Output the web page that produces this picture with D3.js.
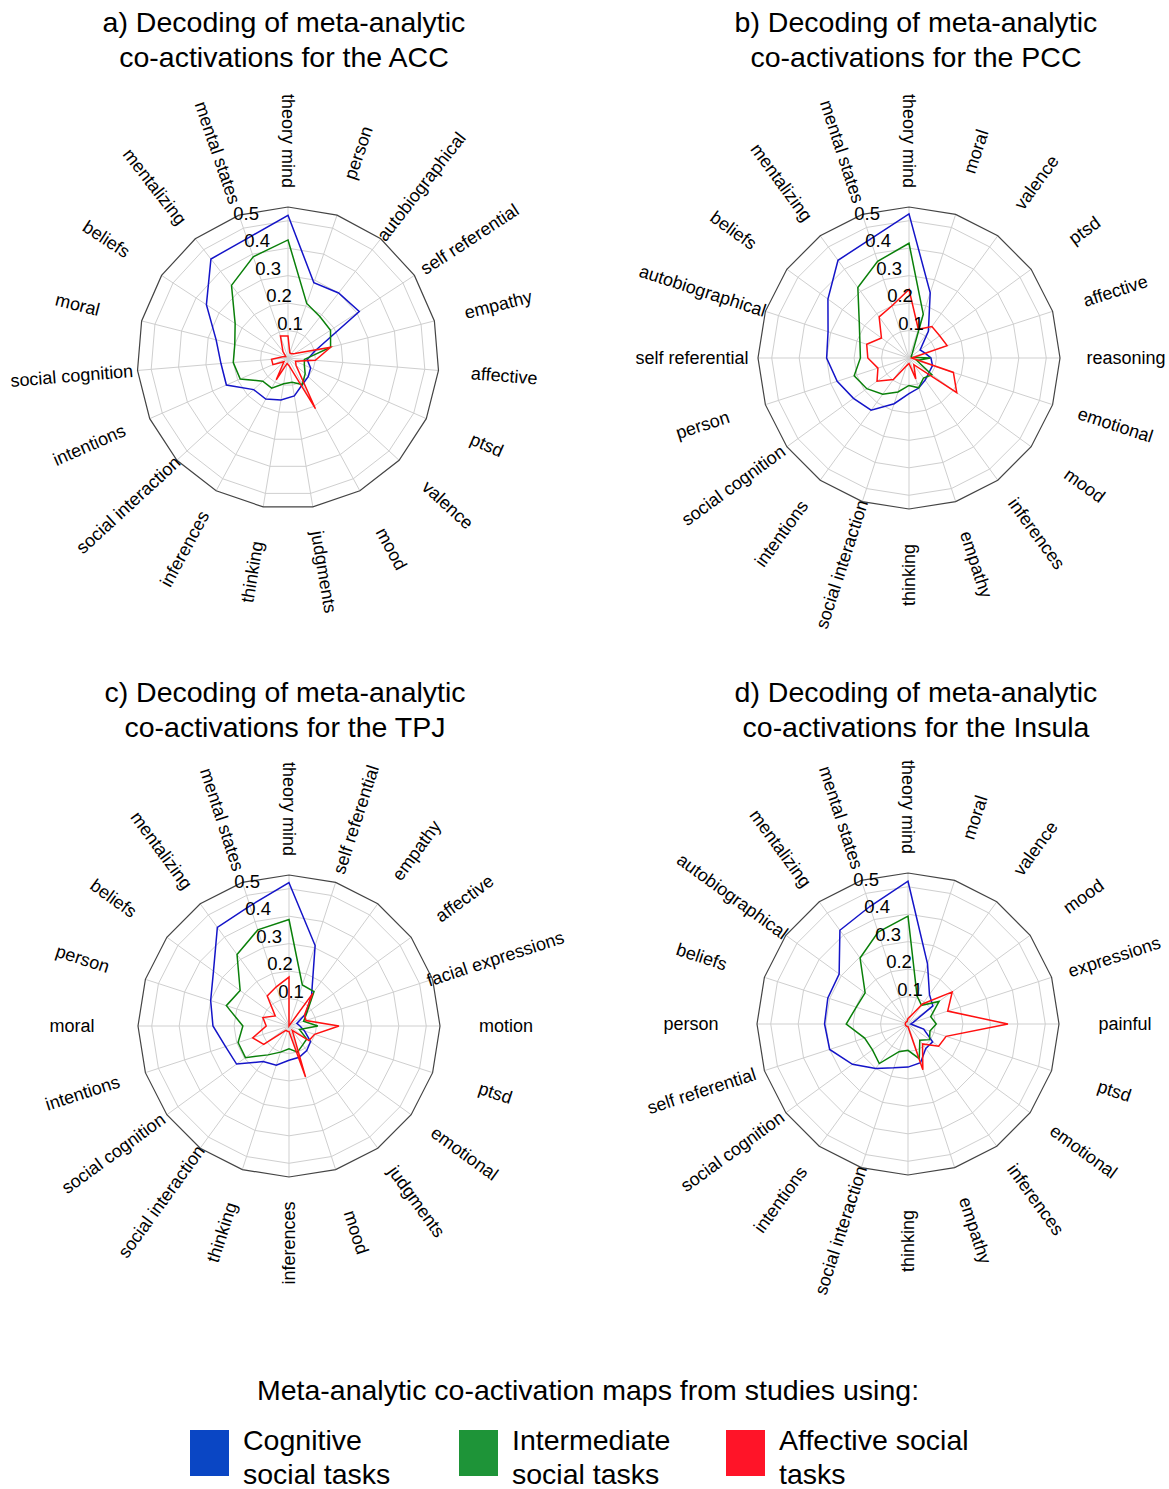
<!DOCTYPE html>
<html>
<head>
<meta charset="utf-8">
<script src="https://cdn.jsdelivr.net/npm/d3@7"></script>
<style>
  body { margin: 0; background: #fff; }
  text { font-family: "Liberation Sans", Arial, Helvetica, sans-serif; fill: #000; }
</style>
</head>
<body>
<div id="chart"></div>
<script>
// ---- data ----
const aCats = ["theory mind", "person", "autobiographical", "self referential", "empathy", "affective",
  "ptsd", "valence", "mood", "judgments", "thinking", "inferences", "social interaction", "intentions",
  "social cognition", "moral", "beliefs", "mentalizing", "mental states"];
const aCognitive = [0.52, 0.29, 0.30, 0.31, 0.10, 0.07, 0.09, 0.10, 0.11, 0.14, 0.155, 0.17, 0.17, 0.245, 0.245, 0.27, 0.355, 0.457, 0.46];
const aIntermediate = [0.43, 0.21, 0.19, 0.185, 0.16, 0.06, 0.065, 0.085, 0.11, 0.09, 0.095, 0.125, 0.125, 0.19, 0.20, 0.20, 0.23, 0.335, 0.39];
const aAffective = [0.08, 0.02, 0.02, 0.03, 0.16, 0.10, 0.03, 0.04, 0.21, 0.03, 0.02, 0.09, 0.02, 0.06, 0.06, 0.02, 0.01, 0.03, 0.085];

const bCats = ["theory mind", "moral", "valence", "ptsd", "affective", "reasoning", "emotional", "mood",
  "inferences", "empathy", "thinking", "social interaction", "intentions", "social cognition", "person",
  "self referential", "autobiographical", "beliefs", "mentalizing", "mental states"];
const bCognitive = [0.525, 0.25, 0.12, 0.05, 0.06, 0.08, 0.09, 0.09, 0.10, 0.115, 0.13, 0.175, 0.235, 0.25, 0.275, 0.30, 0.31, 0.365, 0.44, 0.455];
const bIntermediate = [0.418, 0.168, 0.02, 0.01, 0.01, 0.078, 0.03, 0.103, 0.09, 0.114, 0.10, 0.13, 0.163, 0.19, 0.21, 0.177, 0.188, 0.224, 0.317, 0.37];
const bAffective = [0.25, 0.11, 0.142, 0.138, 0.146, 0.01, 0.17, 0.215, 0.03, 0.08, 0.02, 0.03, 0.097, 0.144, 0.119, 0.15, 0.162, 0.124, 0.185, 0.20];

const cCats = ["theory mind", "self referential", "empathy", "affective", "facial expressions", "motion",
  "ptsd", "emotional", "judgments", "mood", "inferences", "thinking", "social interaction",
  "social cognition", "intentions", "moral", "person", "beliefs", "mentalizing", "mental states"];
const cCognitive = [0.522, 0.308, 0.14, 0.075, 0.03, 0.04, 0.06, 0.097, 0.11, 0.12, 0.125, 0.15, 0.16, 0.236, 0.243, 0.277, 0.30, 0.34, 0.444, 0.46];
const cIntermediate = [0.388, 0.157, 0.155, 0.08, 0.056, 0.105, 0.04, 0.08, 0.085, 0.10, 0.083, 0.10, 0.13, 0.196, 0.195, 0.168, 0.24, 0.22, 0.322, 0.368];
const cAffective = [0.178, 0.0, 0.147, 0.07, 0.065, 0.182, 0.098, 0.09, 0.02, 0.195, 0.02, 0.02, 0.02, 0.114, 0.139, 0.083, 0.10, 0.062, 0.135, 0.15];

const dCats = ["theory mind", "moral", "valence", "mood", "expressions", "painful", "ptsd", "emotional",
  "inferences", "empathy", "thinking", "social interaction", "intentions", "social cognition",
  "self referential", "person", "beliefs", "autobiographical", "mentalizing", "mental states"];
const dCognitive = [0.52, 0.23, 0.133, 0.112, 0.02, 0.01, 0.06, 0.111, 0.11, 0.148, 0.157, 0.168, 0.20, 0.25, 0.30, 0.304, 0.307, 0.31, 0.422, 0.45];
const dIntermediate = [0.393, 0.107, 0.084, 0.14, 0.087, 0.103, 0.084, 0.097, 0.073, 0.133, 0.096, 0.106, 0.178, 0.16, 0.166, 0.225, 0.198, 0.193, 0.297, 0.352];
const dAffective = [0.02, 0.03, 0.09, 0.199, 0.152, 0.364, 0.146, 0.138, 0.09, 0.175, 0.01, 0.01, 0.01, 0.01, 0.01, 0.01, 0.01, 0.01, 0.01, 0.01];

const tickValues = [0.1, 0.2, 0.3, 0.4, 0.5];
const seriesNames = ["Cognitive social tasks", "Intermediate social tasks", "Affective social tasks"];
const lineColors = ["#1414c8", "#0a800a", "#ff1010"];
const legendColors = ["#0a46c4", "#1e9438", "#ff1428"];

// ---- layout ----
const W = 1169, H = 1489;
const svg = d3.select("#chart").append("svg").attr("width", W).attr("height", H);
svg.append("rect").attr("width", W).attr("height", H).attr("fill", "#fff");

const r = d3.scaleLinear().domain([0, 0.55]).range([0, 151]);

const panels = [
  {cx: 288, cy: 358, tx: 284, ty: 32, title: ["a) Decoding of meta-analytic", "co-activations for the ACC"],
   cats: aCats, series: [aCognitive, aIntermediate, aAffective]},
  {cx: 909, cy: 358, tx: 916, ty: 32, title: ["b) Decoding of meta-analytic", "co-activations for the PCC"],
   cats: bCats, series: [bCognitive, bIntermediate, bAffective]},
  {cx: 289, cy: 1026, tx: 285, ty: 702, title: ["c) Decoding of meta-analytic", "co-activations for the TPJ"],
   cats: cCats, series: [cCognitive, cIntermediate, cAffective]},
  {cx: 908, cy: 1024, tx: 916, ty: 702, title: ["d) Decoding of meta-analytic", "co-activations for the Insula"],
   cats: dCats, series: [dCognitive, dIntermediate, dAffective]}
];

function radar(p) {
  const n = p.cats.length;
  const ang = d3.scaleLinear().domain([0, n]).range([0, 2 * Math.PI]);
  const g = svg.append("g").attr("transform", `translate(${p.cx},${p.cy})`);
  const ring = v => d3.lineRadial().angle((d, i) => ang(i)).radius(() => r(v)).curve(d3.curveLinearClosed)(p.cats);

  // grid rings
  g.selectAll(".ring").data(tickValues).enter().append("path")
    .attr("d", v => ring(v))
    .attr("fill", "none").attr("stroke", "#cfcfcf").attr("stroke-width", 1);

  // spokes
  g.selectAll(".spoke").data(p.cats).enter().append("line")
    .attr("x1", 0).attr("y1", 0)
    .attr("x2", (d, i) => r(0.55) * Math.sin(ang(i)))
    .attr("y2", (d, i) => -r(0.55) * Math.cos(ang(i)))
    .attr("stroke", "#cfcfcf").attr("stroke-width", 1);

  // outer frame
  g.append("path").attr("d", ring(0.55))
    .attr("fill", "none").attr("stroke", "#444").attr("stroke-width", 1.2);

  // data lines
  const line = d3.lineRadial().angle((d, i) => ang(i)).radius(d => r(d)).curve(d3.curveLinearClosed);
  p.series.forEach((s, k) => {
    g.append("path").attr("d", line(s))
      .attr("fill", "none").attr("stroke", lineColors[k]).attr("stroke-width", 1.5)
      .attr("stroke-linejoin", "miter");
  });

  // tick labels
  g.selectAll(".tick").data(tickValues).enter().append("text")
    .attr("x", v => 13 - 0.4 * r(v))
    .attr("y", v => -r(v) - 1)
    .attr("text-anchor", "middle")
    .attr("font-size", 18.5)
    .text(v => v.toFixed(1));

  // category labels
  g.selectAll(".cat").data(p.cats).enter().append("text")
    .attr("transform", (d, i) => {
      const a = ang(i) * 180 / Math.PI;
      const x = 217 * Math.sin(ang(i)), y = -217 * Math.cos(ang(i));
      const rot = (a > 0.01 && a < 179.99) ? a - 90 : a + 90;
      return `translate(${x},${y}) rotate(${rot})`;
    })
    .attr("text-anchor", "middle")
    .attr("dominant-baseline", "central")
    .attr("font-size", 18)
    .text(d => d);

  // title
  svg.append("text").attr("x", p.tx).attr("y", p.ty).attr("text-anchor", "middle")
    .attr("font-size", 28.5).text(p.title[0]);
  svg.append("text").attr("x", p.tx).attr("y", p.ty + 35).attr("text-anchor", "middle")
    .attr("font-size", 28.5).text(p.title[1]);
}

panels.forEach(radar);

// ---- legend ----
svg.append("text").attr("x", 588).attr("y", 1400).attr("text-anchor", "middle")
  .attr("font-size", 28.5).text("Meta-analytic co-activation maps from studies using:");

const legendX = [190, 459, 726];
const legendLines = [["Cognitive", "social tasks"], ["Intermediate", "social tasks"], ["Affective social", "tasks"]];
const lg = svg.selectAll(".leg").data(seriesNames).enter().append("g")
  .attr("transform", (d, i) => `translate(${legendX[i]},1430)`);
lg.append("rect").attr("width", 39).attr("height", 46).attr("fill", (d, i) => legendColors[i]);
lg.append("text").attr("x", 53).attr("y", 20).attr("font-size", 28.5).text((d, i) => legendLines[i][0]);
lg.append("text").attr("x", 53).attr("y", 54).attr("font-size", 28.5).text((d, i) => legendLines[i][1]);
</script>
</body>
</html>
